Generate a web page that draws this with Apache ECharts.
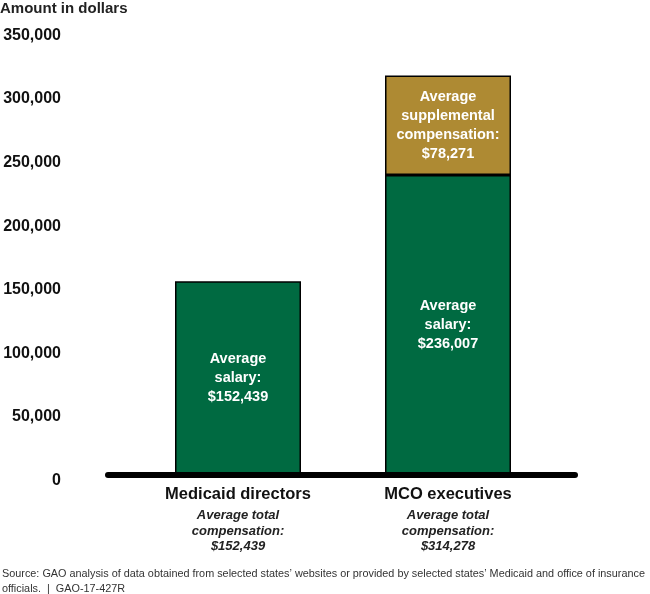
<!DOCTYPE html>
<html>
<head>
    <meta charset="utf-8">
    <title>Medicaid directors vs MCO executives</title>
    <script src="https://cdn.jsdelivr.net/npm/echarts@6/dist/echarts.min.js"></script>
    <style>body{margin:0;background:#fff;}</style>
</head>
<body>
    <div id="main" style="width:650px;height:594px;"></div>
    <script type="text/javascript">
        var categories = ['Medicaid directors', 'MCO executives'];
        var salary = [152439, 236007];
        var supplemental = ['-', 78271];
        var totalComp = [152439, 314278];
        var yTicks = [0, 50000, 100000, 150000, 200000, 250000, 300000, 350000];

        var green = '#006A41';
        var gold = '#AE8A33';
        function money(v) { return '$' + v.toLocaleString('en-US'); }

        var myChart = echarts.init(document.getElementById('main'));
        // no narrow font installed, so a smaller bold size stands in for it
        var barLabel = {
            show: true,
            position: 'inside',
            color: '#fff',
            fontWeight: 'bold',
            fontSize: 14.5,
            lineHeight: 19
        };
        var option = {
            animation: false,
            textStyle: { fontFamily: 'Liberation Sans, Arial, sans-serif' },
            title: [{
                text: 'Amount in dollars',
                left: 0, top: 1, padding: 0,
                textStyle: { fontSize: 15, fontWeight: 'bold', color: '#222' }
            }, {
                text: 'Source: GAO analysis of data obtained from selected states\u2019 websites or provided by selected states\u2019 Medicaid and office of insurance\nofficials.  |  GAO-17-427R',
                left: 2, top: 566, padding: 0,
                textStyle: { fontSize: 10.85, fontWeight: 'normal', color: '#333', lineHeight: 15 }
            }],
            grid: [
                { left: 133, width: 420, top: 30, bottom: 119 },
                { left: 108, right: 75, top: 30, bottom: 119 }
            ],
            xAxis: [{
                gridIndex: 0,
                type: 'category',
                data: categories,
                axisLine: { show: false },
                axisTick: { show: false },
                axisLabel: {
                    margin: 5,
                    formatter: function (name, i) {
                        return '{name|' + name + '}\n{sub|Average total}\n{sub|compensation:}\n{sub|' + money(totalComp[i]) + '}';
                    },
                    rich: {
                        name: { fontSize: 16.5, fontWeight: 'bold', color: '#111', lineHeight: 28 },
                        sub: { fontSize: 13, fontWeight: 'bold', fontStyle: 'italic', color: '#222', lineHeight: 15.5 }
                    }
                }
            }, {
                gridIndex: 1,
                type: 'category',
                data: categories,
                z: 5,
                axisLine: { show: true, lineStyle: { color: '#000', width: 6 } },
                axisTick: { show: false },
                axisLabel: { show: false }
            }],
            yAxis: [{
                gridIndex: 0,
                type: 'value',
                min: 0, max: 350000, interval: 50000,
                show: false
            }, {
                gridIndex: 1,
                type: 'value',
                min: yTicks[0], max: yTicks[yTicks.length - 1], interval: yTicks[1] - yTicks[0],
                axisLine: { show: false },
                axisTick: { show: false },
                splitLine: { show: false },
                axisLabel: {
                    margin: 47,
                    verticalAlign: 'top',
                    lineHeight: 11,
                    fontSize: 16,
                    fontWeight: 'bold',
                    color: '#111',
                    formatter: function (v) { return v.toLocaleString('en-US'); }
                }
            }],
            series: [{
                name: 'Average salary',
                type: 'bar',
                xAxisIndex: 0, yAxisIndex: 0,
                stack: 'comp',
                barWidth: 126,
                data: salary,
                itemStyle: { color: green, borderColor: '#000', borderWidth: 1.5 },
                label: Object.assign({}, barLabel, {
                    formatter: function (p) { return 'Average\nsalary:\n' + money(p.value); }
                })
            }, {
                name: 'Average supplemental compensation',
                type: 'bar',
                xAxisIndex: 0, yAxisIndex: 0,
                stack: 'comp',
                barWidth: 126,
                data: supplemental,
                itemStyle: { color: gold, borderColor: '#000', borderWidth: 1.5 },
                label: Object.assign({}, barLabel, {
                    formatter: function (p) { return 'Average\nsupplemental\ncompensation:\n' + money(p.value); }
                })
            }]
        };
        myChart.setOption(option);
    </script>
</body>
</html>
